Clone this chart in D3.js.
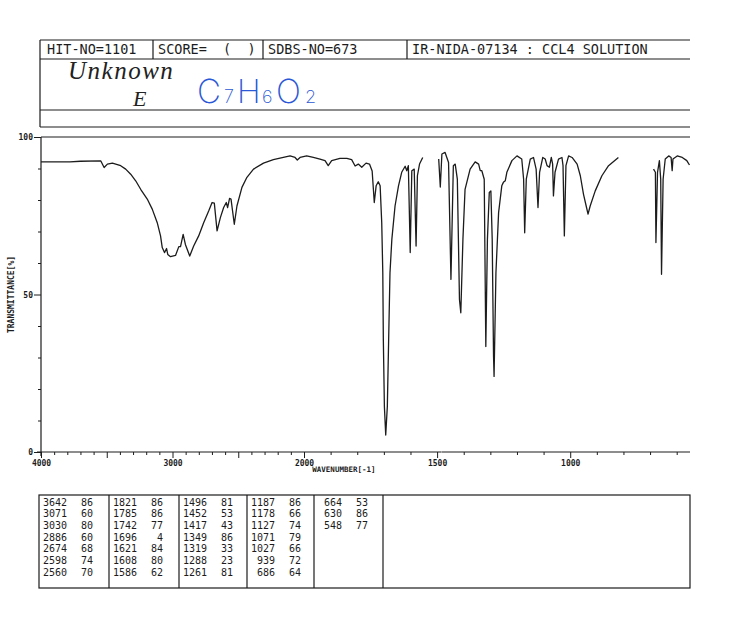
<!DOCTYPE html>
<html>
<head>
<meta charset="utf-8">
<script src="https://cdn.jsdelivr.net/npm/d3@7"></script>
<style>
  body { margin: 0; background: #fff; }
  svg { display: block; }
</style>
</head>
<body>
<div id="chart"></div>
<script>
// header cells of the SDBS sheet
const headerCells = ["HIT-NO=1101", "SCORE=  (  )", "SDBS-NO=673", "IR-NIDA-07134 : CCL4 SOLUTION"];

// spectrum: [wavenumber cm-1, transmittance %]
// the trace is broken where the CCl4 solvent absorbs
const segmentA = [
  [4000, 92.1], [3780, 92.1], [3700, 92.3], [3545, 92.4], [3520, 90.3], [3495, 91.4],
  [3457, 91.7], [3394, 90.9], [3356, 89.8], [3318, 88.2], [3280, 86.1], [3242, 83.4],
  [3192, 80.3], [3154, 77.1], [3116, 72.8], [3091, 68.6], [3078, 64.9], [3061, 63.3],
  [3045, 64.6], [3036, 62.7], [3015, 62.0], [2977, 62.4], [2952, 65.2], [2939, 65.2],
  [2919, 69.1], [2902, 65.9], [2869, 62.2], [2839, 65.4], [2801, 68.6], [2763, 72.8],
  [2725, 76.5], [2699, 79.2], [2682, 79.0], [2661, 70.2], [2636, 74.4], [2611, 77.6],
  [2591, 79.2], [2581, 77.6], [2566, 80.5], [2555, 80.3], [2530, 72.3], [2510, 78.1],
  [2472, 84.0], [2434, 87.2], [2384, 89.8], [2308, 91.7], [2233, 92.8], [2157, 93.5],
  [2106, 94.0], [2068, 93.5], [2051, 92.7], [2030, 93.5], [1990, 94.0], [1965, 93.5],
  [1940, 93.0], [1921, 92.5], [1909, 90.9], [1896, 92.5], [1865, 93.2], [1839, 93.2],
  [1821, 92.8], [1808, 90.8], [1796, 91.4], [1783, 90.4], [1767, 91.7], [1754, 91.4],
  [1744, 89.2], [1736, 79.2], [1729, 84.5], [1721, 85.8], [1714, 84.5], [1708, 72.8],
  [1704, 56.9], [1702, 35.7], [1698, 14.4], [1693, 5.4], [1687, 14.4], [1682, 35.7],
  [1677, 56.9], [1670, 67.5], [1658, 78.1], [1645, 84.5], [1633, 88.8], [1620, 90.7],
  [1614, 89.3], [1608, 90.9], [1601, 63.3], [1595, 89.3], [1586, 89.8], [1579, 65.4],
  [1574, 87.7], [1566, 91.4], [1554, 93.5]
];
const segmentB = [
  [1494, 93.0], [1488, 84.1], [1482, 94.6], [1470, 95.1], [1457, 91.9], [1448, 54.8],
  [1439, 90.9], [1432, 91.4], [1424, 86.6], [1416, 48.4], [1411, 44.2], [1403, 67.5],
  [1395, 83.4], [1376, 89.8], [1357, 92.1], [1344, 91.4], [1338, 89.3], [1332, 89.3],
  [1323, 86.6], [1317, 33.5], [1311, 67.5], [1304, 82.4], [1298, 82.9], [1293, 67.5],
  [1288, 30.4], [1286, 24.0], [1279, 56.9], [1269, 76.0], [1257, 84.5], [1251, 85.6],
  [1244, 86.1], [1238, 88.8], [1219, 92.5], [1200, 94.0], [1182, 93.0], [1175, 86.6],
  [1171, 69.6], [1165, 86.6], [1150, 93.0], [1138, 93.5], [1128, 89.8], [1121, 77.6],
  [1115, 88.8], [1103, 93.5], [1094, 93.0], [1087, 90.9], [1078, 90.4], [1071, 93.5],
  [1066, 91.4], [1063, 81.3], [1057, 88.8], [1044, 93.0], [1031, 93.5], [1027, 90.9],
  [1022, 68.6], [1016, 90.9], [1006, 94.0], [993, 93.5], [974, 91.4], [962, 87.7],
  [950, 81.8], [940, 78.1], [933, 75.5], [925, 78.1], [906, 82.9], [881, 87.7],
  [856, 90.9], [819, 93.5]
];
const segmentC = [
  [687, 89.8], [680, 88.8], [678, 66.5], [672, 88.8], [665, 92.5], [660, 86.6],
  [657, 56.4], [651, 86.6], [643, 93.0], [630, 94.0], [621, 93.5], [617, 89.3],
  [614, 93.0], [598, 94.0], [579, 93.5], [562, 92.5], [552, 91.1]
];

// peak table printed under the chart
const peakWavenumbers = [
  3642, 3071, 3030, 2886, 2674, 2598, 2560,
  1821, 1785, 1742, 1696, 1621, 1608, 1586,
  1496, 1452, 1417, 1349, 1319, 1288, 1261,
  1187, 1178, 1127, 1071, 1027, 939, 686,
  664, 630, 548
];
const peakTransmittance = [
  86, 60, 80, 60, 68, 74, 70,
  86, 86, 77, 4, 84, 80, 62,
  81, 53, 43, 86, 33, 23, 81,
  86, 66, 74, 79, 66, 72, 64,
  53, 86, 77
];

const xTicks = d3.range(4000, 599, -100);
const xTickLabels = [4000, 3000, 2000, 1500, 1000];
const yTicks = d3.range(0, 101, 10);
const yTickLabels = [0, 50, 100];
const axisBreak = [1484, 1468];

const width = 730;
const height = 622;
const mono = "'DejaVu Sans Mono', 'Liberation Mono', monospace";

const svg = d3.select("#chart").append("svg")
  .attr("width", width)
  .attr("height", height)
  .attr("viewBox", [0, 0, width, height]);

svg.append("rect").attr("width", width).attr("height", height).attr("fill", "#fff");

const x = d3.scaleLinear().domain([4000, 2000, 550]).range([41, 304, 690]);
const y = d3.scaleLinear().domain([0, 100]).range([452, 137]);

const left = x(4000);
const right = x(550);
const ink = "#1c1c1c";

// ---- header box
const head = svg.append("g").attr("stroke", ink).attr("stroke-width", 1.2).attr("fill", "none");
[40, 59, 110, 127].forEach(yy => head.append("line").attr("x1", left - 1).attr("x2", right).attr("y1", yy).attr("y2", yy));
head.append("line").attr("x1", left - 1).attr("x2", left - 1).attr("y1", 40).attr("y2", 127);
const headerDividers = [153, 263, 407];
headerDividers.forEach(xx => head.append("line").attr("x1", xx).attr("x2", xx).attr("y1", 40).attr("y2", 59));

const headerX = [47, 158, 268, 412];
svg.append("g")
  .attr("font-family", mono)
  .attr("font-size", 13.5)
  .attr("fill", ink)
  .selectAll("text")
  .data(headerCells)
  .join("text")
  .attr("x", (d, i) => headerX[i])
  .attr("y", 54)
  .attr("xml:space", "preserve")
  .text(d => d);

// handwritten notes
svg.append("text")
  .attr("x", 68).attr("y", 79)
  .attr("font-family", "'Liberation Serif', 'DejaVu Serif', serif")
  .attr("font-style", "italic")
  .attr("font-size", 25)
  .attr("letter-spacing", 1.5)
  .attr("fill", "#222")
  .text("Unknown");
svg.append("text")
  .attr("x", 133).attr("y", 106)
  .attr("font-family", "'Liberation Serif', 'DejaVu Serif', serif")
  .attr("font-style", "italic")
  .attr("font-size", 22)
  .attr("fill", "#222")
  .text("E");

const formula = svg.append("text")
  .attr("y", 103)
  .attr("font-family", "Inter, 'Noto Sans', sans-serif")
  .attr("font-weight", 200)
  .attr("fill", "#2b58d6");
[["C", 197, 33], ["7", 224, 18], ["H", 237, 32], ["6", 262, 18], ["O", 276, 33], ["2", 305, 18]]
  .forEach(([t, xx, fs]) => formula.append("tspan").attr("x", xx).attr("font-size", fs).text(t));

// ---- plot frame
svg.append("line")
  .attr("x1", left).attr("x2", right)
  .attr("y1", y(100)).attr("y2", y(100))
  .attr("stroke", ink).attr("stroke-width", 1.2);
svg.append("line")
  .attr("x1", left).attr("x2", left)
  .attr("y1", y(100)).attr("y2", y(0) + 4)
  .attr("stroke", ink).attr("stroke-width", 1.2);

// x axis drawn in two pieces (small break after 1500 in the print)
[[4000, axisBreak[0]], [axisBreak[1], 550]].forEach(([a, b]) =>
  svg.append("line")
    .attr("x1", x(a) - 4).attr("x2", x(b))
    .attr("y1", y(0)).attr("y2", y(0))
    .attr("stroke", ink).attr("stroke-width", 1.2));

const xAxisG = svg.append("g")
  .attr("transform", `translate(0,${y(0)})`)
  .call(d3.axisBottom(x)
    .tickValues(xTicks)
    .tickSize(3)
    .tickPadding(4)
    .tickFormat(d => xTickLabels.includes(d) ? d : ""))
  .attr("font-family", mono)
  .attr("font-size", 8)
  .call(g => g.select(".domain").remove());
xAxisG.selectAll(".tick line")
  .attr("stroke", ink)
  .attr("y2", d => d % 500 === 0 ? 6 : 3);
xAxisG.selectAll(".tick text").attr("fill", ink).attr("font-weight", "bold").attr("y", 8);

const yAxisG = svg.append("g")
  .attr("transform", `translate(${left},0)`)
  .call(d3.axisLeft(y)
    .tickValues(yTicks)
    .tickSize(3)
    .tickPadding(10)
    .tickFormat(d => yTickLabels.includes(d) ? d : ""))
  .attr("font-family", mono)
  .attr("font-size", 8)
  .call(g => g.select(".domain").remove());
yAxisG.selectAll(".tick line")
  .attr("stroke", ink)
  .attr("x2", d => yTickLabels.includes(d) ? -7 : -3);
yAxisG.selectAll(".tick text").attr("fill", ink).attr("font-weight", "bold").attr("x", -8);

svg.append("text")
  .attr("transform", `translate(14,${y(50)}) rotate(-90)`)
  .attr("text-anchor", "middle")
  .attr("font-family", mono)
  .attr("font-size", 8)
  .attr("font-weight", "bold")
  .attr("fill", ink)
  .text("TRANSMITTANCE[%]");

svg.append("text")
  .attr("x", x(1850))
  .attr("y", 472)
  .attr("text-anchor", "middle")
  .attr("font-family", mono)
  .attr("font-size", 7.5)
  .attr("font-weight", "bold")
  .attr("fill", ink)
  .text("WAVENUMBER[-1]");

// ---- spectrum
const line = d3.line()
  .x(d => x(d[0]))
  .y(d => y(d[1]));

svg.append("g")
  .attr("fill", "none")
  .attr("stroke", ink)
  .attr("stroke-width", 1.3)
  .attr("stroke-linejoin", "round")
  .selectAll("path")
  .data([segmentA, segmentB, segmentC])
  .join("path")
  .attr("d", line);

// ---- peak table
const tableTop = 495;
const tableBottom = 588;
const colEdges = [39, 109, 179, 247, 314, 383];
const rowsPerCol = 7;
const rowY = d3.scaleLinear().domain([0, 6]).range([505.5, 575.5]);

const tbl = svg.append("g").attr("stroke", ink).attr("stroke-width", 1.2).attr("fill", "none");
tbl.append("rect")
  .attr("x", colEdges[0]).attr("y", tableTop)
  .attr("width", right - colEdges[0]).attr("height", tableBottom - tableTop);
colEdges.slice(1).forEach(xx => tbl.append("line").attr("x1", xx).attr("x2", xx).attr("y1", tableTop).attr("y2", tableBottom));

const cells = svg.append("g")
  .attr("font-family", mono)
  .attr("font-size", 10)
  .attr("fill", ink)
  .attr("text-anchor", "end");
peakWavenumbers.forEach((wn, i) => {
  const col = Math.floor(i / rowsPerCol);
  const row = i % rowsPerCol;
  cells.append("text").attr("x", colEdges[col] + 28).attr("y", rowY(row)).text(wn);
  cells.append("text").attr("x", colEdges[col] + 54).attr("y", rowY(row)).text(peakTransmittance[i]);
});
</script>
</body>
</html>
